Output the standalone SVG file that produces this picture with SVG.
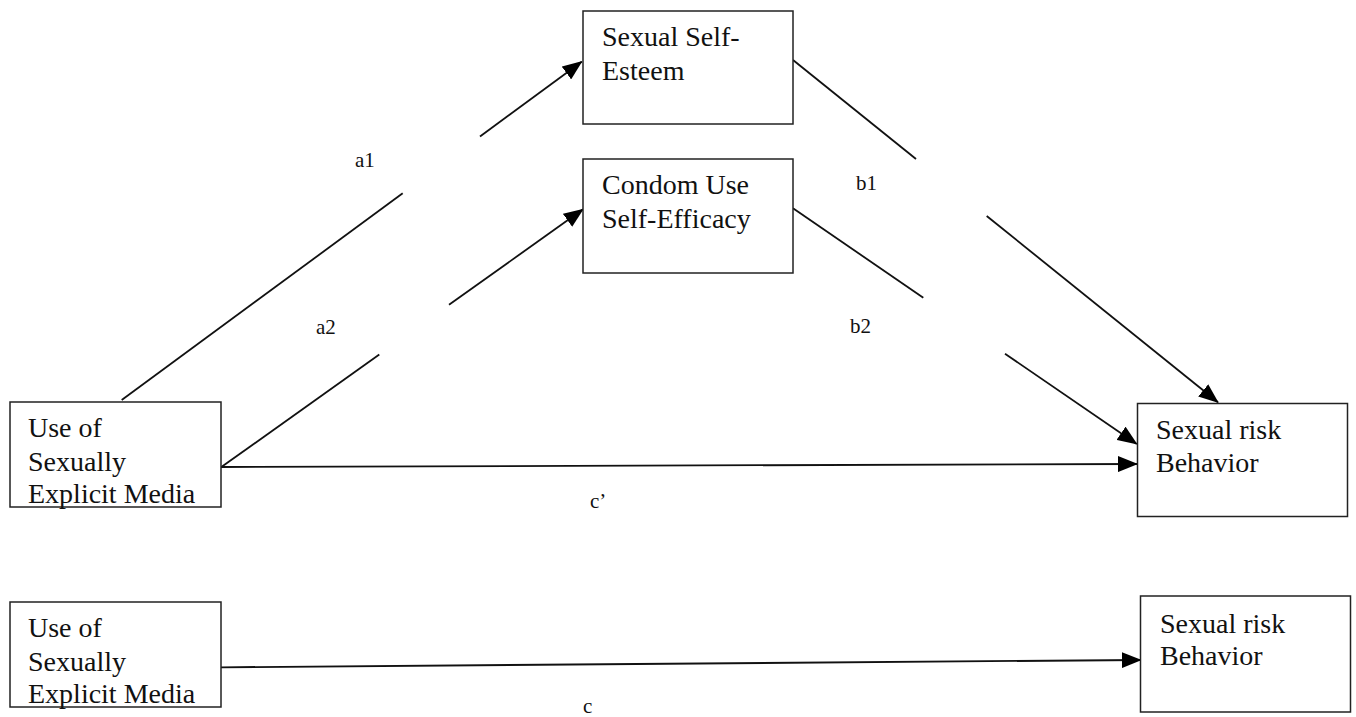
<svg xmlns="http://www.w3.org/2000/svg" width="1356" height="717" viewBox="0 0 1356 717">
<style>
.box{fill:#fff;stroke:#222;stroke-width:1.5}
.t{font-size:28px;fill:#111}
.lbl{font-size:21px;fill:#111}
.ln{stroke:#111;stroke-width:1.8;fill:none}
</style>
<defs>
<marker id="ah" markerUnits="userSpaceOnUse" markerWidth="20" markerHeight="16" refX="19" refY="8" orient="auto">
<path d="M0,0 L20,8 L0,16 z" fill="#000"/>
</marker>
</defs>
<rect width="1356" height="717" fill="#fff"/>
<g id="connectors" font-family="'Liberation Serif', 'Times New Roman', 'DejaVu Serif', serif">
<line class="ln" x1="121.7" y1="400" x2="402.7" y2="193.3"/>
<line class="ln" x1="480" y1="136.5" x2="581.7" y2="61.7" marker-end="url(#ah)"/>
<line class="ln" x1="221" y1="467.3" x2="379.3" y2="354.5"/>
<line class="ln" x1="449" y1="304.8" x2="583" y2="209.3" marker-end="url(#ah)"/>
<line class="ln" x1="793" y1="60" x2="916" y2="159"/>
<line class="ln" x1="986.7" y1="216" x2="1218" y2="402.3" marker-end="url(#ah)"/>
<line class="ln" x1="793" y1="208.3" x2="923.3" y2="297.7"/>
<line class="ln" x1="1005" y1="353.7" x2="1136.7" y2="444" marker-end="url(#ah)"/>
<line class="ln" x1="221" y1="467" x2="1137" y2="464" marker-end="url(#ah)"/>
<line class="ln" x1="221" y1="667.3" x2="1140.7" y2="660" marker-end="url(#ah)"/>
<text class="lbl" x="355" y="167">a1</text>
<text class="lbl" x="316" y="334">a2</text>
<text class="lbl" x="856" y="190">b1</text>
<text class="lbl" x="850" y="333">b2</text>
<text class="lbl" x="590" y="508">c’</text>
<text class="lbl" x="583" y="713">c</text>
</g>
<g id="nodes" font-family="'Liberation Serif', 'Times New Roman', 'DejaVu Serif', serif">
<g id="sem1">
<rect class="box" x="10" y="402" width="211" height="105"/>
<text class="t" x="28" y="437">Use of</text>
<text class="t" x="28" y="471">Sexually</text>
<text class="t" x="28" y="503">Explicit Media</text>
</g>
<g id="sse">
<rect class="box" x="583" y="11" width="210" height="113"/>
<text class="t" x="602" y="46">Sexual Self-</text>
<text class="t" x="602" y="80">Esteem</text>
</g>
<g id="cuse">
<rect class="box" x="583" y="159" width="210" height="114"/>
<text class="t" x="602" y="194">Condom Use</text>
<text class="t" x="602" y="228">Self-Efficacy</text>
</g>
<g id="srb1">
<rect class="box" x="1137.5" y="403.5" width="210" height="113"/>
<text class="t" x="1156" y="439">Sexual risk</text>
<text class="t" x="1156" y="472">Behavior</text>
</g>
<g id="sem2">
<rect class="box" x="10" y="602" width="211" height="105"/>
<text class="t" x="28" y="637">Use of</text>
<text class="t" x="28" y="671">Sexually</text>
<text class="t" x="28" y="703">Explicit Media</text>
</g>
<g id="srb2">
<rect class="box" x="1140.5" y="596" width="210" height="116"/>
<text class="t" x="1160" y="633">Sexual risk</text>
<text class="t" x="1160" y="665">Behavior</text>
</g>
</g>
</svg>
